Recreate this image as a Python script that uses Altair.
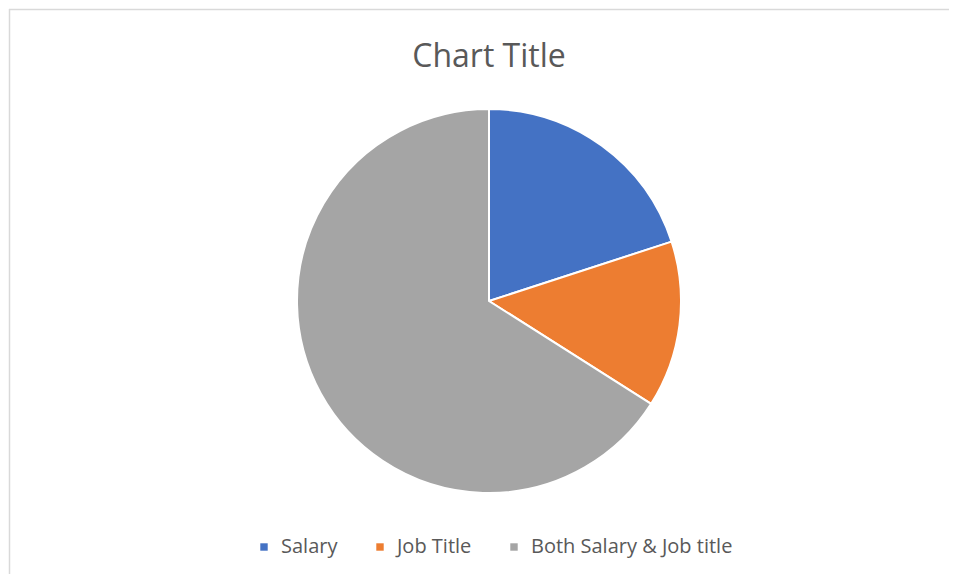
import altair as alt
import pandas as pd

categories = ["Salary", "Job Title", "Both Salary & Job title"]
values = [20, 14, 66]
colors = ["#4472C4", "#ED7D31", "#A5A5A5"]
title_text = ["Chart Title"]

df = pd.DataFrame({"category": categories, "value": values, "order": list(range(len(categories)))})
tdf = pd.DataFrame({"t": title_text})

W, H = 941, 566
CX, CY, R = 481, 293, 192
FONT = "Open Sans"

pie = alt.Chart(df).mark_arc(stroke="white", strokeWidth=2).encode(
    theta=alt.Theta("value:Q", stack=True),
    order=alt.Order("order:Q"),
    color=alt.Color(
        "category:N",
        sort=categories,
        scale=alt.Scale(domain=categories, range=colors),
        legend=alt.Legend(
            title=None, orient="none", direction="horizontal",
            legendX=246, legendY=529,
            symbolType="square", symbolSize=55, symbolStrokeWidth=0,
            labelFontSize=20, labelColor="#595959", labelFont=FONT, labelLimit=0,
            labelOffset=7, columnPadding=32,
        ),
    ),
    x=alt.value(CX), y=alt.value(CY), radius=alt.value(R),
)

title = alt.Chart(tdf).mark_text(
    fontSize=32, color="#595959", font=FONT, baseline="middle", align="center"
).encode(text="t:N", x=alt.value(CX), y=alt.value(49))

left_border = alt.Chart(tdf).mark_rule(color="#d9d9d9", strokeWidth=1.5).encode(
    x=alt.value(1.5), y=alt.value(1), y2=alt.value(H)
)
top_border = alt.Chart(tdf).mark_rule(color="#d9d9d9", strokeWidth=1.5).encode(
    x=alt.value(1), x2=alt.value(W), y=alt.value(1.5)
)

chart = alt.layer(left_border, top_border, pie, title).properties(
    width=W, height=H, autosize=alt.AutoSizeParams(type="none"), padding=0, background="white"
).configure_view(stroke=None)

chart.save("out.html", embed_options={"renderer": "svg", "actions": False})
